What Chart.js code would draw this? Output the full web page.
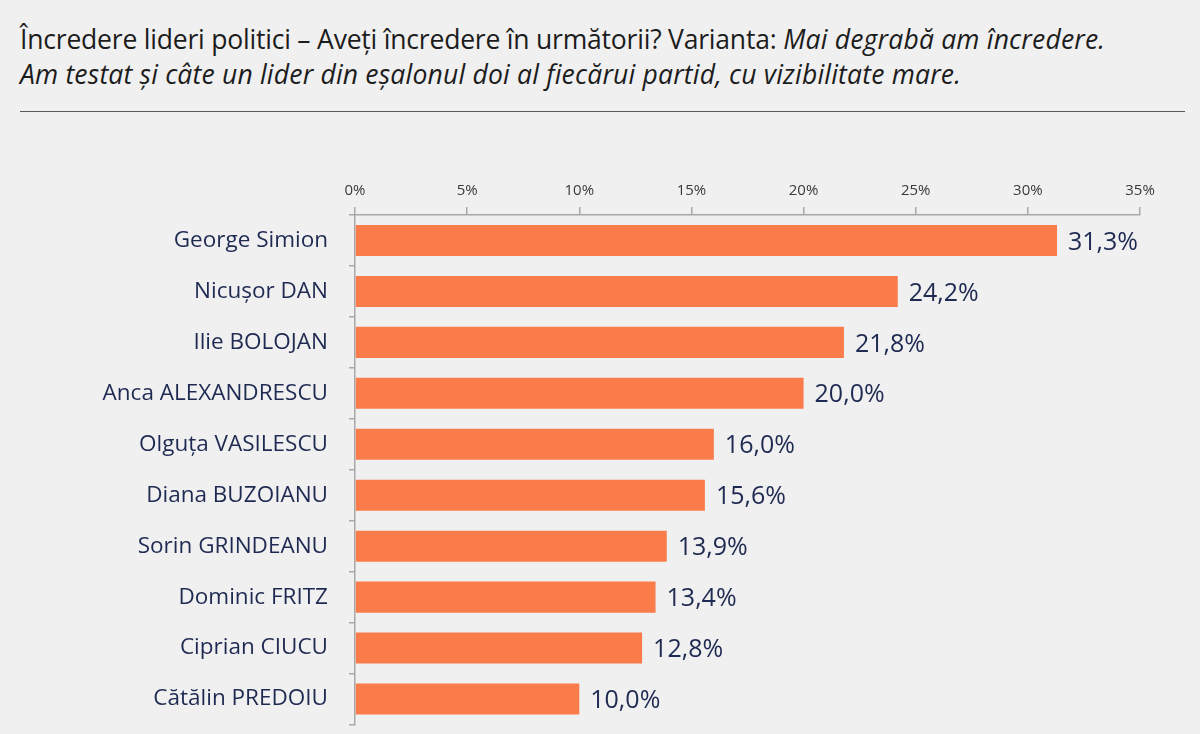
<!DOCTYPE html>
<html>
<head>
<meta charset="utf-8">
<script src="https://cdn.jsdelivr.net/npm/chart.js@4"></script>
<style>
  html, body { margin: 0; padding: 0; background: #f0f0f0; width: 1200px; height: 734px; overflow: hidden; }
  #title { position: absolute; left: 20px; top: 22px; font-family: "Open Sans", sans-serif; font-size: 26.5px; line-height: 35px; color: #1c1c1c; letter-spacing: -0.2px; white-space: nowrap; }
  #title i { font-style: italic; letter-spacing: 0.2px; }
  #rule { position: absolute; left: 20px; top: 111px; width: 1165px; height: 0; border-top: 1.5px solid #5a5a5a; }
  #wrap { position: absolute; left: 0; top: 130px; width: 1200px; height: 640px; }
</style>
</head>
<body>
<div id="title">Încredere lideri politici – Aveți încredere în următorii? Varianta: <i>Mai degrabă am încredere.</i><br><i>Am testat și câte un lider din eșalonul doi al fiecărui partid, cu vizibilitate mare.</i></div>
<div id="rule"></div>
<div id="wrap"><canvas id="c" width="1200" height="629"></canvas></div>
<script>
const categories = ["George Simion", "Nicușor DAN", "Ilie BOLOJAN", "Anca ALEXANDRESCU", "Olguța VASILESCU", "Diana BUZOIANU", "Sorin GRINDEANU", "Dominic FRITZ", "Ciprian CIUCU", "Cătălin PREDOIU"];
const values = [31.3, 24.2, 21.8, 20.0, 16.0, 15.6, 13.9, 13.4, 12.8, 10.0];
const tickValues = [0, 5, 10, 15, 20, 25, 30, 35];

const valueLabels = {
  id: 'valueLabels',
  afterDatasetsDraw(chart) {
    const ctx = chart.ctx;
    const meta = chart.getDatasetMeta(0);
    ctx.save();
    ctx.font = '25px "Open Sans", sans-serif';
    ctx.fillStyle = '#1f2a52';
    ctx.textAlign = 'left';
    ctx.textBaseline = 'middle';
    meta.data.forEach((bar, i) => {
      ctx.fillText(values[i].toFixed(1).replace('.', ',') + '%', bar.x + 11, bar.y + 2);
    });
    ctx.restore();
  }
};

new Chart(document.getElementById('c'), {
  type: 'bar',
  data: {
    labels: categories,
    datasets: [{
      data: values,
      backgroundColor: '#fa7c4b',
      borderWidth: 0,
      categoryPercentage: 1,
      barPercentage: 0.61
    }]
  },
  options: {
    indexAxis: 'y',
    responsive: false,
    animation: false,
    layout: { padding: { left: 0, right: 60, top: 0, bottom: 9 } },
    plugins: { legend: { display: false }, tooltip: { enabled: false } },
    scales: {
      x: {
        position: 'top',
        min: 0,
        max: 35,
        afterBuildTicks(axis) { axis.ticks = tickValues.map(v => ({ value: v })); },
        afterFit(axis) { axis.height = 85; },
        ticks: {
          callback: v => v + '%',
          font: { family: '"Open Sans", sans-serif', size: 15 },
          color: '#3a3a3a',
          padding: 7,
          maxRotation: 0
        },
        grid: { drawOnChartArea: false, drawTicks: true, tickLength: 8, color: '#a8a8a8', lineWidth: 1.5 },
        border: { display: true, color: '#a8a8a8', width: 1.5 }
      },
      y: {
        afterFit(axis) { axis.width = 355; },
        ticks: {
          font: { family: '"Open Sans", sans-serif', size: 22.5 },
          color: '#1f2a52',
          padding: 21
        },
        grid: { offset: true, drawOnChartArea: false, drawTicks: true, tickLength: 6, color: '#a8a8a8', lineWidth: 1.5 },
        border: { display: true, color: '#a8a8a8', width: 1.5 }
      }
    }
  },
  plugins: [valueLabels]
});
</script>
</body>
</html>
